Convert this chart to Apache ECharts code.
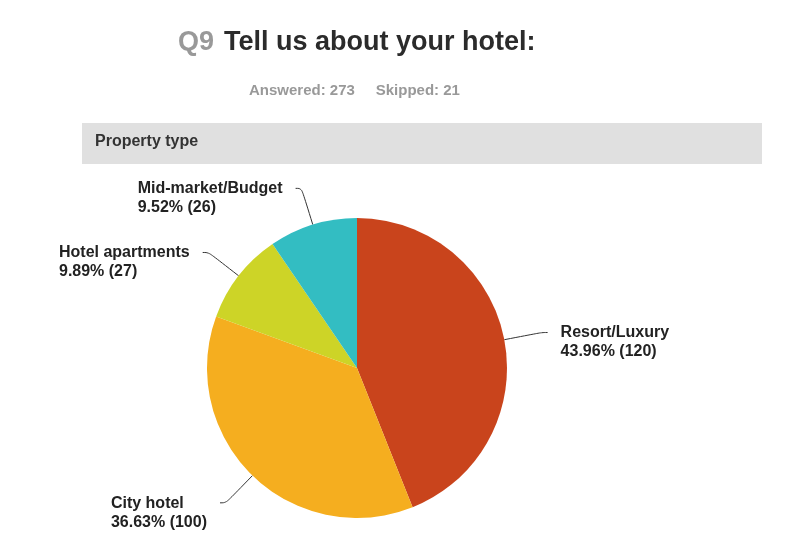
<!DOCTYPE html>
<html><head><meta charset="utf-8">
<script src="https://cdn.jsdelivr.net/npm/echarts@6/dist/echarts.min.js"></script>
<style>html,body{margin:0;padding:0;background:#fff}#c{width:800px;height:550px}</style>
</head><body><div id="c"></div>
<script>
const categories = ['Resort/Luxury', 'City hotel', 'Hotel apartments', 'Mid-market/Budget'];
const percents = [43.96, 36.63, 9.89, 9.52];
const counts = [120, 100, 27, 26];
const colors = ['#c9441c', '#f5ae1f', '#cdd427', '#33bdc2'];

const chart = echarts.init(document.getElementById('c'));
const font = '"Liberation Sans", Arial, sans-serif';
chart.setOption({
  animation: false,
  title: [
    { text: '{q|Q9}{t|Tell us about your hotel:}', left: 173, top: 24,
      textStyle: { rich: {
        q: { fontFamily: font, fontWeight: 'bold', fontSize: 27, color: '#999', padding: [0, 10, 0, 0] },
        t: { fontFamily: font, fontWeight: 'bold', fontSize: 27, color: '#2b2b2b' } } } },
    { text: 'Answered: 273     Skipped: 21', left: 244, top: 78,
      textStyle: { fontFamily: font, fontWeight: 'bold', fontSize: 15, color: '#999' } }
  ],
  graphic: [
    { type: 'rect', shape: { x: 82, y: 123, width: 680, height: 41 }, style: { fill: '#e0e0e0' } },
    { type: 'text', left: 95, top: 134, style: { text: 'Property type', font: 'bold 16px "Liberation Sans", Arial', fill: '#333' } }
  ],
  series: [{
    type: 'pie',
    center: [357, 368],
    radius: 150,
    startAngle: 90,
    clockwise: true,
    avoidLabelOverlap: false,
    data: categories.map((n, i) => ({ name: n, value: counts[i], pct: percents[i], itemStyle: { color: colors[i] } })),
    label: {
      show: true,
      formatter: p => '{a|' + p.name + '}\n{a|' + p.data.pct.toFixed(2) + '% (' + p.value + ')}',
      padding: [20, 0, 0, 0],
      distanceToLabelLine: 13,
      rich: { a: { fontFamily: font, fontWeight: 'bold', fontSize: 16, color: '#222', align: 'left', lineHeight: 19 } }
    },
    labelLine: { show: true, length: 38, length2: 6, smooth: 0.4, lineStyle: { color: '#333', width: 1 } },
    emphasis: { disabled: true }
  }]
});
</script></body></html>
